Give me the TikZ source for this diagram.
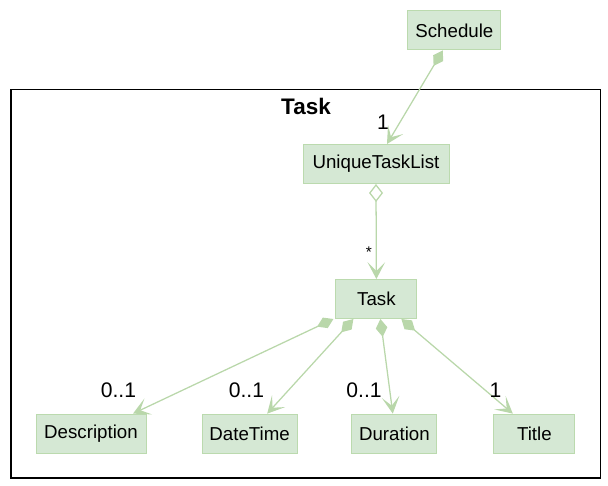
\documentclass[tikz,border=0pt]{standalone}
\usepackage{fontspec}
\setmainfont{Liberation Sans}
\usepackage{xcolor}
\usetikzlibrary{arrows.meta}

\definecolor{boxfill}{HTML}{D5E8D4}
\definecolor{boxline}{HTML}{BBDAAE}
\definecolor{edgecol}{HTML}{B9D7AA}

\begin{document}
\begin{tikzpicture}[line width=0.9pt,
  classbox/.style={draw=boxline,fill=boxfill,line width=0.7pt,minimum height=0.975cm,inner xsep=2pt,font=\fontsize{13.3}{16}\selectfont},
  assoc/.style={draw=edgecol,line width=0.9pt},
  mult/.style={inner sep=0pt,font=\fontsize{15}{18}\selectfont}]

\useasboundingbox (0,0) rectangle (15.2,-12.15);

% package frame
\draw[line width=1.1pt] (0.275,-2.2375) rectangle (15.0125,-11.95);
\node[font=\fontsize{16}{19}\selectfont\bfseries] (PackageTitle) at (7.65,-2.65) {Task};

% classes
\node[classbox,minimum width=2.325cm] (ClassSchedule) at (11.36,-0.76) {Schedule};
\node[classbox,minimum width=3.65cm] (ClassUniqueTaskList) at (9.4,-4.1) {UniqueTaskList};
\node[classbox,minimum width=2.025cm] (ClassTask) at (9.41,-7.475) {Task};

\node[classbox,minimum width=2.75cm] (ClassDescription) at (2.275,-10.84) {Description};
\node[classbox,minimum width=2.375cm] (ClassDateTime) at (6.24,-10.84) {DateTime};
\node[classbox,minimum width=2.125cm] (ClassDuration) at (9.86,-10.84) {Duration};
\node[classbox,minimum width=2.025cm] (ClassTitle) at (13.36,-10.84) {Title};

% links
\draw[assoc,{Diamond[length=0.45cm,width=0.29cm]}-{Stealth[length=0.42cm,width=0.44cm,inset=0.22cm]}]
  ([xshift=-0.29cm]ClassSchedule.south) -- ([xshift=0.275cm]ClassUniqueTaskList.north);
\draw[assoc,{Diamond[open,length=0.45cm,width=0.35cm]}-{Stealth[length=0.42cm,width=0.44cm,inset=0.22cm]}]
  (ClassUniqueTaskList.south) -- (ClassTask.north);

\draw[assoc,{Diamond[length=0.45cm,width=0.29cm]}-{Stealth[length=0.42cm,width=0.44cm,inset=0.22cm]}]
  ([xshift=-0.05cm]ClassTask.south west) -- ([xshift=1.05cm]ClassDescription.north);
\draw[assoc,{Diamond[length=0.45cm,width=0.29cm]}-{Stealth[length=0.42cm,width=0.44cm,inset=0.22cm]}]
  ([xshift=0.45cm]ClassTask.south west) -- ([xshift=0.44cm]ClassDateTime.north);
\draw[assoc,{Diamond[length=0.45cm,width=0.29cm]}-{Stealth[length=0.42cm,width=0.44cm,inset=0.22cm]}]
  ([xshift=0.1cm]ClassTask.south) -- ([xshift=-0.04cm]ClassDuration.north);
\draw[assoc,{Diamond[length=0.45cm,width=0.29cm]}-{Stealth[length=0.42cm,width=0.44cm,inset=0.22cm]}]
  ([xshift=-0.4cm]ClassTask.south east) -- ([xshift=-0.54cm]ClassTitle.north);

% multiplicities
\node[mult] (MultUniqueTaskList) at (9.575,-3.05) {1};
\node[mult,font=\fontsize{11}{13}\selectfont] (MultTask) at (9.225,-6.3) {*};
\node[mult] (MultDescription) at (2.96,-9.75) {0..1};
\node[mult] (MultDateTime) at (6.16,-9.75) {0..1};
\node[mult] (MultDuration) at (9.1,-9.75) {0..1};
\node[mult] (MultTitle) at (12.39,-9.75) {1};

\end{tikzpicture}
\end{document}
